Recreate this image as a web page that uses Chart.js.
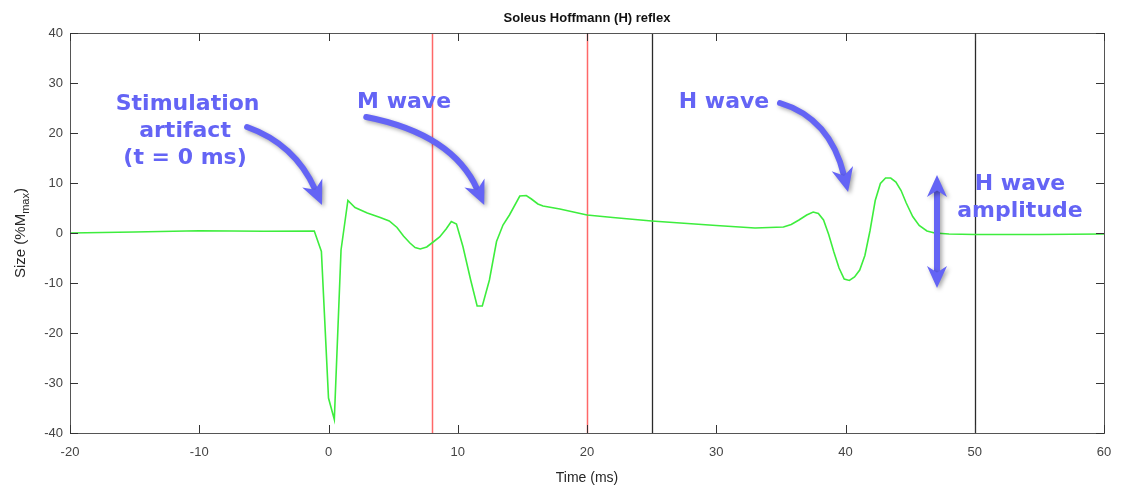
<!DOCTYPE html>
<html>
<head>
<meta charset="utf-8">
<script src="https://cdn.jsdelivr.net/npm/chart.js@4.4.1/dist/chart.umd.min.js"></script>
<style>
  html, body { margin: 0; padding: 0; background: #fff; }
  #wrap { width: 1126px; height: 486px; }
</style>
</head>
<body>
<div id="wrap"><canvas id="c"></canvas></div>
<script>
// EMG trace, time in ms vs size in %Mmax
const timeMs = [-20, -15, -10, -5, -1.1, -0.55, 0, 0.45, 0.97, 1.5, 2.05, 3, 4, 4.7, 5.3, 5.8, 6.3, 6.7, 7.1, 7.6,
  8.1, 8.6, 9.1, 9.5, 9.9, 10.4, 11, 11.5, 11.9, 12.45, 13.0, 13.5, 14.0, 14.8, 15.3, 15.7, 16.2, 16.6, 17.9, 20,
  22, 25, 30, 33, 35.2, 35.8, 36.4, 37.0, 37.5, 37.9, 38.3, 38.7, 39.1, 39.5, 39.9, 40.3, 40.7, 41.1, 41.5, 41.9,
  42.3, 42.7, 43.1, 43.5, 43.9, 44.3, 44.7, 45.2, 45.7, 46.3, 46.9, 48, 50, 55, 60];
const sizePct = [0, 0.2, 0.45, 0.35, 0.4, -3.7, -33, -37.3, -3.4, 6.5, 5.1, 4.0, 3.1, 2.4, 1.1, -0.6, -2.0, -2.9, -3.2, -2.8,
  -1.8, -0.8, 0.8, 2.3, 1.8, -2.7, -9.4, -14.6, -14.6, -9.4, -1.7, 1.6, 3.6, 7.4, 7.5, 6.8, 5.8, 5.4, 4.8, 3.6,
  3.1, 2.4, 1.5, 1.0, 1.2, 1.7, 2.6, 3.6, 4.2, 3.9, 2.6, -0.3, -3.8, -7.0, -9.2, -9.5, -8.8, -7.4, -4.5, 0.5,
  6.5, 9.9, 11.0, 11.0, 10.2, 8.5, 6.0, 3.3, 1.5, 0.4, 0.0, -0.2, -0.3, -0.3, -0.2];

const xTicks = [-20, -10, 0, 10, 20, 30, 40, 50, 60];
const yTicks = [-40, -30, -20, -10, 0, 10, 20, 30, 40];
const redLines = [8, 20];
const blackLines = [25, 50];

// annotation texts placed in data units
const labels = [
  { text: "Stimulation", x: -10.9, y: 25.8 },
  { text: "artifact", x: -11.1, y: 20.4 },
  { text: "(t = 0 ms)", x: -11.1, y: 15.0 },
  { text: "M wave", x: 5.85, y: 26.2 },
  { text: "H wave", x: 30.6, y: 26.2 },
  { text: "H wave", x: 53.5, y: 9.8 },
  { text: "amplitude", x: 53.5, y: 4.4 },
];
// curved arrows: start, control, tip (data units)
const arrows = [
  [[-6.3, 21.2], [-2.6, 17.8], [-0.5, 5.6]],
  [[2.92, 23.2], [9.6, 19.8], [12.05, 5.6]],
  [[34.93, 26.0], [38.8, 23.0], [40.2, 8.2]],
];
const ampArrow = { x: 47.08, top: 11.6, bottom: -11 };

const BLUE = "#6464f5";

function head(ctx, tx, ty, ang, len, wid) {
  ctx.beginPath();
  ctx.moveTo(tx, ty);
  ctx.lineTo(tx - len * Math.cos(ang) + wid / 2 * Math.sin(ang), ty - len * Math.sin(ang) - wid / 2 * Math.cos(ang));
  ctx.lineTo(tx - len * 0.7 * Math.cos(ang), ty - len * 0.7 * Math.sin(ang));
  ctx.lineTo(tx - len * Math.cos(ang) - wid / 2 * Math.sin(ang), ty - len * Math.sin(ang) + wid / 2 * Math.cos(ang));
  ctx.closePath();
  ctx.fill();
}

const decor = {
  id: "decor",
  beforeDatasetsDraw(chart) {
    const { ctx, chartArea: a, scales: { x } } = chart;
    ctx.save();
    ctx.lineWidth = 1.5;
    ctx.strokeStyle = "#ff6868";
    redLines.forEach((v) => {
      const px = Math.round(x.getPixelForValue(v)) + 0.5;
      ctx.beginPath(); ctx.moveTo(px, a.top); ctx.lineTo(px, a.bottom); ctx.stroke();
    });
    ctx.strokeStyle = "#2a2a2a";
    ctx.lineWidth = 1.3;
    blackLines.forEach((v) => {
      const px = Math.round(x.getPixelForValue(v)) + 0.5;
      ctx.beginPath(); ctx.moveTo(px, a.top); ctx.lineTo(px, a.bottom); ctx.stroke();
    });
    ctx.restore();
  },
  afterDraw(chart) {
    const { ctx, chartArea: a, scales: { x, y } } = chart;
    ctx.save();
    // box + inward ticks
    ctx.strokeStyle = "#555";
    ctx.lineWidth = 1;
    ctx.strokeRect(Math.round(a.left) + 0.5, Math.round(a.top) + 0.5, Math.round(a.right - a.left), Math.round(a.bottom - a.top));
    const tl = 8;
    ctx.strokeStyle = "#333";
    xTicks.forEach((v) => {
      const px = Math.round(x.getPixelForValue(v)) + 0.5;
      ctx.beginPath();
      ctx.moveTo(px, a.bottom); ctx.lineTo(px, a.bottom - tl);
      ctx.moveTo(px, a.top); ctx.lineTo(px, a.top + tl);
      ctx.stroke();
    });
    yTicks.forEach((v) => {
      const py = Math.round(y.getPixelForValue(v)) + 0.5;
      ctx.beginPath();
      ctx.moveTo(a.left, py); ctx.lineTo(a.left + tl, py);
      ctx.moveTo(a.right, py); ctx.lineTo(a.right - tl, py);
      ctx.stroke();
    });

    // titles
    const cx = (a.left + a.right) / 2;
    ctx.fillStyle = "#111";
    ctx.font = "bold 13px 'Liberation Sans', Arial, sans-serif";
    ctx.textAlign = "center";
    ctx.textBaseline = "middle";
    ctx.fillText("Soleus Hoffmann (H) reflex", cx, 18);
    ctx.fillStyle = "#262626";
    ctx.font = "14px 'Liberation Sans', Arial, sans-serif";
    ctx.fillText("Time (ms)", cx, 478);

    // y title with subscript
    ctx.save();
    ctx.translate(21, (a.top + a.bottom) / 2);
    ctx.rotate(-Math.PI / 2);
    const p1 = "Size (%M", sub = "max", p3 = ")";
    const big = "15px 'Liberation Sans', Arial, sans-serif", small = "11px 'Liberation Sans', Arial, sans-serif";
    ctx.font = big;
    const w1 = ctx.measureText(p1).width, w3 = ctx.measureText(p3).width;
    ctx.font = small;
    const w2 = ctx.measureText(sub).width;
    const sx = -(w1 + w2 + w3) / 2;
    ctx.textAlign = "left";
    ctx.font = big;
    ctx.fillText(p1, sx, 0);
    ctx.font = small;
    ctx.fillText(sub, sx + w1, 5);
    ctx.font = big;
    ctx.fillText(p3, sx + w1 + w2, 0);
    ctx.restore();

    // annotation text
    ctx.fillStyle = BLUE;
    ctx.font = "bold 22px 'DejaVu Sans', Verdana, sans-serif";
    ctx.textAlign = "center";
    ctx.textBaseline = "middle";
    labels.forEach((l) => ctx.fillText(l.text, x.getPixelForValue(l.x), y.getPixelForValue(l.y)));

    // arrows with soft shadow
    ctx.shadowColor = "rgba(0,0,0,0.35)";
    ctx.shadowBlur = 4;
    ctx.shadowOffsetX = 2;
    ctx.shadowOffsetY = 2;
    ctx.strokeStyle = BLUE;
    ctx.fillStyle = BLUE;
    ctx.lineCap = "round";
    arrows.forEach(([s, c, t]) => {
      const sp = [x.getPixelForValue(s[0]), y.getPixelForValue(s[1])];
      const cp = [x.getPixelForValue(c[0]), y.getPixelForValue(c[1])];
      const tp = [x.getPixelForValue(t[0]), y.getPixelForValue(t[1])];
      const ang = Math.atan2(tp[1] - cp[1], tp[0] - cp[0]);
      const hl = 24;
      const ep = [tp[0] - hl * 0.7 * Math.cos(ang), tp[1] - hl * 0.7 * Math.sin(ang)];
      ctx.lineWidth = 6;
      ctx.beginPath();
      ctx.moveTo(sp[0], sp[1]);
      ctx.quadraticCurveTo(cp[0], cp[1], ep[0], ep[1]);
      ctx.stroke();
      head(ctx, tp[0], tp[1], ang, hl, 22);
    });
    const ax = x.getPixelForValue(ampArrow.x);
    const at = y.getPixelForValue(ampArrow.top), ab = y.getPixelForValue(ampArrow.bottom);
    ctx.lineWidth = 6;
    ctx.lineCap = "butt";
    ctx.beginPath(); ctx.moveTo(ax, at + 15); ctx.lineTo(ax, ab - 15); ctx.stroke();
    head(ctx, ax, at, -Math.PI / 2, 22, 20);
    head(ctx, ax, ab, Math.PI / 2, 22, 20);
    ctx.restore();
  },
};

new Chart(document.getElementById("c"), {
  type: "line",
  data: {
    datasets: [
      {
        label: "EMG",
        data: timeMs.map((t, i) => ({ x: t, y: sizePct[i] })),
        borderColor: "#3ded3d",
        borderWidth: 1.6,
        pointRadius: 0,
        tension: 0,
        fill: false,
      },
    ],
  },
  options: {
    responsive: true,
    maintainAspectRatio: false,
    animation: false,
    layout: { padding: { left: 0, top: 33, right: 22, bottom: 0 } },
    plugins: { legend: { display: false }, tooltip: { enabled: false }, title: { display: false } },
    scales: {
      x: {
        type: "linear",
        min: -20,
        max: 60,
        afterBuildTicks: (s) => { s.ticks = xTicks.map((v) => ({ value: v })); },
        afterFit: (s) => { s.height = 53; },
        grid: { display: false, drawTicks: false },
        border: { display: false },
        ticks: {
          color: "#444",
          font: { family: "'Liberation Sans', Arial, sans-serif", size: 13 },
          padding: 12,
          maxRotation: 0,
        },
      },
      y: {
        min: -40,
        max: 40,
        afterBuildTicks: (s) => { s.ticks = yTicks.map((v) => ({ value: v })); },
        afterFit: (s) => { s.width = 70; },
        grid: { display: false, drawTicks: false },
        border: { display: false },
        ticks: {
          color: "#444",
          font: { family: "'Liberation Sans', Arial, sans-serif", size: 13 },
          padding: 7,
        },
      },
    },
  },
  plugins: [decor],
});
</script>
</body>
</html>
